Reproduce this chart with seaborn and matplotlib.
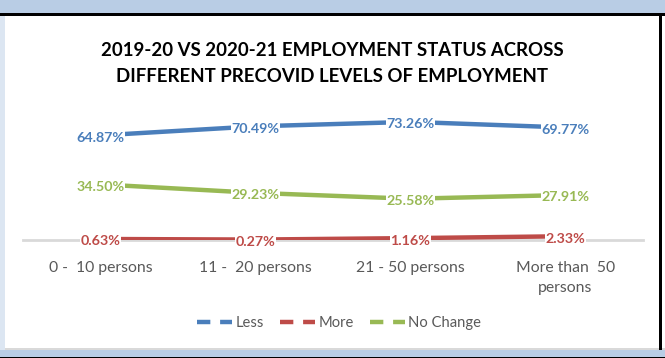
import matplotlib
matplotlib.use("Agg")
import matplotlib.pyplot as plt
from matplotlib.lines import Line2D
from matplotlib.patches import Rectangle
import seaborn as sns
import pandas as pd

categories = ["0 -  10 persons", "11 -  20 persons", "21 - 50 persons", "More than  50\npersons"]
less = [64.87, 70.49, 73.26, 69.77]
more = [0.63, 0.27, 1.16, 2.33]
no_change = [34.50, 29.23, 25.58, 27.91]
series_names = ["Less", "More", "No Change"]
colors = {"Less": "#4A7EBB", "More": "#BE4B48", "No Change": "#98B954"}

rows = []
for name, vals in zip(series_names, [less, more, no_change]):
    for i, v in enumerate(vals):
        rows.append({"pos": i, "cat": categories[i], "series": name, "value": v})
df = pd.DataFrame(rows)

sns.set_theme(style="white")
plt.rcParams["font.family"] = ["Lato", "DejaVu Sans"]

fig = plt.figure(figsize=(6.65, 3.58), dpi=100)
fig.patch.set_facecolor("white")

# screenshot frame decoration
fig.patches.append(Rectangle((0, 1 - 13/358), 1, 13/358, transform=fig.transFigure,
                             facecolor="#B9CDE5", edgecolor="none", zorder=0))
fig.patches.append(Rectangle((0, 1 - 16/358), 1, 3/358, transform=fig.transFigure,
                             facecolor="#000000", edgecolor="none", zorder=0))
fig.patches.append(Rectangle((0, 0), 1, 8/358, transform=fig.transFigure,
                             facecolor="#B9CDE5", edgecolor="none", zorder=0))
fig.patches.append(Rectangle((0, 0), 1, 1.5/358, transform=fig.transFigure,
                             facecolor="#000000", edgecolor="none", zorder=0))
fig.patches.append(Rectangle((0, 8/358), 1, 2/358, transform=fig.transFigure,
                             facecolor="#D9D9D9", edgecolor="none", zorder=0))
fig.patches.append(Rectangle((0, 8/358), 5/665, 334/358, transform=fig.transFigure,
                             facecolor="#DCE6F2", edgecolor="none", zorder=0))
fig.patches.append(Rectangle((659/665, 8/358), 3/665, 334/358, transform=fig.transFigure,
                             facecolor="#000000", edgecolor="none", zorder=0))

ax = fig.add_axes([23/665, (358-240)/358, 620/665, 129/358])
ax.set_facecolor("none")

sns.lineplot(data=df, x="pos", y="value", hue="series", palette=colors,
             hue_order=series_names, linewidth=3.2, ax=ax, legend=False, sort=False)

for name, vals in zip(series_names, [less, more, no_change]):
    for i, v in enumerate(vals):
        ax.text(i, v - 1.5, f"{v:.2f}%", ha="center", va="center", fontsize=10.3,
                fontweight="bold", color=colors[name], zorder=5,
                bbox=dict(boxstyle="square,pad=0.05", facecolor="white", edgecolor="none"))

ax.set_xlim(-0.5, 3.5)
ax.set_ylim(0, 80)
ax.set_yticks([])
ax.set_xticks(range(len(categories)))
ax.set_xticklabels(categories, fontsize=11.3, color="#595959", linespacing=1.55)
ax.tick_params(axis="x", length=0, pad=15)
for s in ["top", "right", "left"]:
    ax.spines[s].set_visible(False)
ax.spines["bottom"].set_color("#D9D9D9")
ax.spines["bottom"].set_linewidth(2)
ax.spines["bottom"].set_zorder(0)
ax.set_xlabel("")
ax.set_ylabel("")

fig.text(0.5, 1 - 50/358, "2019-20 VS 2020-21 EMPLOYMENT STATUS ACROSS",
         ha="center", va="center", fontsize=13.4, fontweight="bold", color="#000000")
fig.text(0.5, 1 - 76/358, "DIFFERENT PRECOVID LEVELS OF EMPLOYMENT",
         ha="center", va="center", fontsize=13.4, fontweight="bold", color="#000000")

handles = [Line2D([0], [0], color=colors[n], linewidth=3.2, linestyle=(0, (3, 2.2)))
           for n in series_names]
fig.legend(handles, series_names, loc="center", bbox_to_anchor=(0.51, 1 - 323/358),
           ncol=3, frameon=False, fontsize=10.6, handlelength=2.4, handletextpad=0.2,
           columnspacing=1.1, labelcolor="#595959")

fig.savefig("out.png", dpi=100)
